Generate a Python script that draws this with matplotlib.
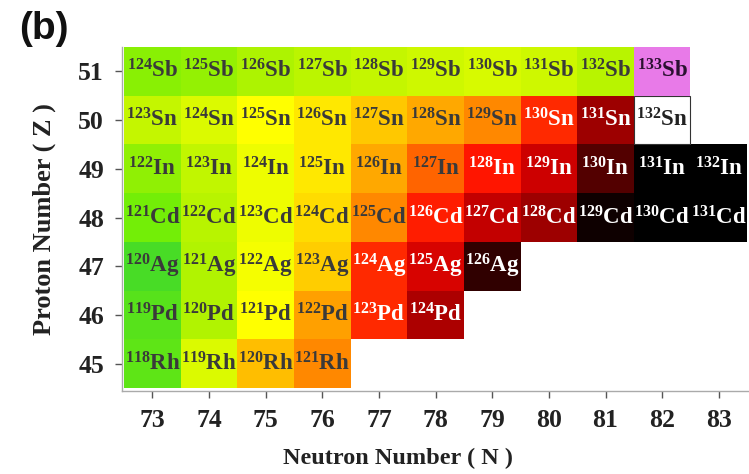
import matplotlib
matplotlib.use("Agg")
import matplotlib.pyplot as plt
from matplotlib.colors import LinearSegmentedColormap
from matplotlib.patches import Rectangle

# ---- data ----
elements = ["Rh", "Pd", "Ag", "Cd", "In", "Sn", "Sb"]
proton_numbers = [45, 46, 47, 48, 49, 50, 51]
n_start = [73, 73, 73, 73, 73, 73, 73]
# colour level (0 = green ... 1 = black) per nuclide, by increasing N
levels_Rh = [0.04, 0.28, 0.52, 0.65]
levels_Pd = [0.03, 0.19, 0.38, 0.60, 0.78, 0.89]
levels_Ag = [0.00, 0.19, 0.35, 0.49, 0.78, 0.85, 0.97]
levels_Cd = [0.08, 0.20, 0.33, 0.46, 0.65, 0.79, 0.87, 0.90, 0.99, 1.00, 1.00]
levels_In = [0.13, 0.22, 0.33, 0.43, 0.58, 0.72, 0.80, 0.86, 0.95, 1.00, 1.00]
levels_Sn = [0.23, 0.28, 0.38, 0.43, 0.50, 0.58, 0.65, 0.78, 0.90, None]
levels_Sb = [0.12, 0.14, 0.18, 0.21, 0.23, 0.25, 0.27, 0.25, 0.20, "special"]
levels = [levels_Rh, levels_Pd, levels_Ag, levels_Cd, levels_In, levels_Sn, levels_Sb]
neutron_ticks = list(range(73, 84))

cmap = LinearSegmentedColormap.from_list("nuc", [
    (0.00, "#48dc26"), (0.08, "#74ee06"), (0.20, "#b8f400"), (0.30, "#e4fc00"),
    (0.38, "#ffff00"), (0.45, "#ffe000"), (0.52, "#ffbf00"), (0.60, "#ffa000"),
    (0.65, "#ff8800"), (0.72, "#ff6600"), (0.80, "#ff1500"), (0.86, "#d00000"),
    (0.90, "#a00000"), (0.95, "#580000"), (1.00, "#000000")])

plt.rcParams["mathtext.fontset"] = "custom"
plt.rcParams["mathtext.rm"] = "Liberation Serif:bold"
plt.rcParams["mathtext.bf"] = "Liberation Serif:bold"
plt.rcParams["mathtext.it"] = "Liberation Serif:bold"

fig = plt.figure(figsize=(7.49, 4.74), dpi=100)
ax = fig.add_axes([0.163, 0.175, 0.836, 0.726])

for el, z, n0, lv in zip(elements, proton_numbers, n_start, levels):
    for i, v in enumerate(lv):
        n = n0 + i
        a = z + n
        if v is None:
            fc, tc, ec, lw = "white", "#222222", "#333333", 0.8
        elif v == "special":
            fc, tc, ec, lw = "#e87ae8", "#2a1030", "none", 0
        else:
            fc = cmap(v)
            tc = "white" if v >= 0.75 else "#3a3a3a"
            ec, lw = "none", 0
        ax.add_patch(Rectangle((n - 0.5, z - 0.5), 1, 1, facecolor=fc,
                               edgecolor=ec, linewidth=lw))
        ax.text(n, z, r"$^{%d}\mathrm{%s}$" % (a, el), ha="center", va="center",
                fontsize=16.5, color=tc)

ax.set_xlim(72.465, 83.52)
ax.set_ylim(44.44, 51.5)
ax.set_xticks(neutron_ticks)
ax.set_yticks(proton_numbers)
for s in ["top", "right"]:
    ax.spines[s].set_visible(False)
for s in ["left", "bottom"]:
    ax.spines[s].set_color("#aaaaaa")
    ax.spines[s].set_linewidth(1.0)
ax.tick_params(axis="both", length=5, width=1, color="#555555", labelsize=18.5,
               direction="out")
ax.tick_params(axis="y", pad=8)
ax.tick_params(axis="x", pad=8)
for lab in ax.get_xticklabels() + ax.get_yticklabels():
    lab.set_fontfamily("Liberation Serif")
    lab.set_fontweight("bold")
    lab.set_color("#222222")

ax.set_xlabel("Neutron Number ( N )", fontsize=17.5, fontfamily="Liberation Serif",
              fontweight="bold", color="#222222", labelpad=11)
ax.xaxis.label.set_x(0.44)
ax.set_ylabel("Proton Number ( Z )", fontsize=19, fontfamily="Liberation Serif",
              fontweight="bold", color="#222222", labelpad=16)

fig.text(0.026, 0.918, "(b)", fontsize=28, fontfamily="Liberation Sans",
         fontweight="bold", color="#111111", va="baseline")

fig.savefig("out.png", dpi=100)
